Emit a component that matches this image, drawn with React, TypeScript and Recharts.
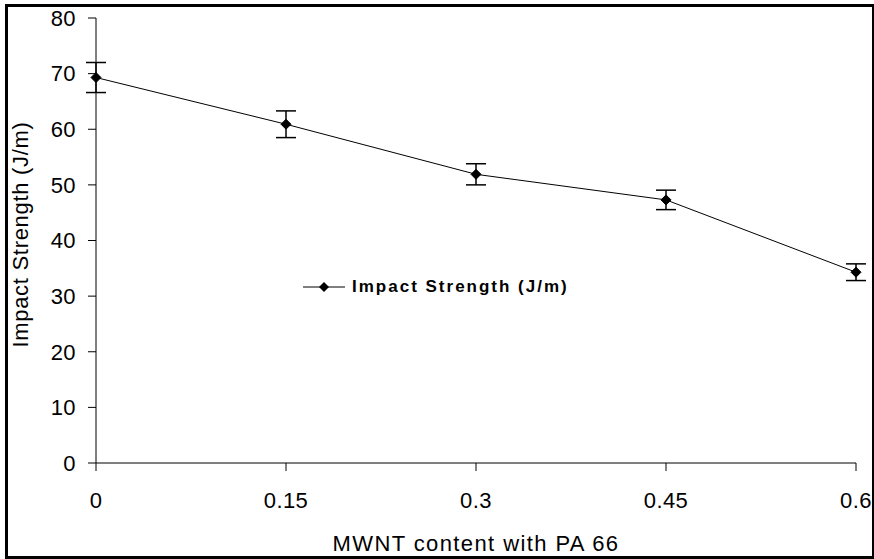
import React from 'react';
import {
  LineChart,
  Line,
  XAxis,
  YAxis,
  ErrorBar,
  Legend,
} from 'recharts';

const mwntContent = [0, 0.15, 0.3, 0.45, 0.6];
const impactStrength = [69.3, 60.9, 51.9, 47.3, 34.3];
const strengthError = [2.7, 2.4, 1.9, 1.75, 1.5];
const yTicks = [0, 10, 20, 30, 40, 50, 60, 70, 80];

const data = mwntContent.map((x, i) => ({
  x,
  strength: impactStrength[i],
  err: strengthError[i],
}));

const FONT = '"Liberation Sans", Arial, sans-serif';

const Diamond = (props: any) => {
  const { cx, cy } = props;
  if (cx == null || cy == null) return null;
  return (
    <polygon
      points={`${cx - 5},${cy} ${cx},${cy - 5} ${cx + 5},${cy} ${cx},${cy + 5}`}
      fill="#000"
      stroke="#000"
    />
  );
};

const LegendBox = () => (
  <div style={{ display: 'flex', alignItems: 'center', fontFamily: FONT }}>
    <svg width={44} height={12}>
      <line x1={0} y1={6} x2={42} y2={6} stroke="#000" strokeWidth={1} />
      <polygon points="16,6 21,1 26,6 21,11" fill="#000" />
    </svg>
    <span style={{ fontSize: 17, fontWeight: 'bold', letterSpacing: 2, marginLeft: 5, color: '#000' }}>
      Impact Strength (J/m)
    </span>
  </div>
);

const YTitle = (props: any) => {
  const { viewBox } = props;
  const cy = viewBox.y + viewBox.height / 2 - 6;
  return (
    <text
      x={20}
      y={cy}
      transform={`rotate(-90, 20, ${cy})`}
      textAnchor="middle"
      dominantBaseline="central"
      fontFamily={FONT}
      fontSize={22}
      letterSpacing={0.7}
      fill="#000"
    >
      Impact Strength (J/m)
    </text>
  );
};

const XTitle = (props: any) => {
  const { viewBox } = props;
  const cx = viewBox.x + viewBox.width / 2;
  return (
    <text
      x={cx}
      y={543}
      textAnchor="middle"
      dominantBaseline="central"
      fontFamily={FONT}
      fontSize={22}
      letterSpacing={1.4}
      fill="#000"
    >
      MWNT content with PA 66
    </text>
  );
};

export default function App() {
  return (
    <div style={{ position: 'absolute', left: 0, top: 0, width: 874, height: 559, background: '#fff' }}>
      <div
        style={{
          position: 'absolute',
          left: 5,
          top: 4,
          width: 869,
          height: 555,
          borderLeft: '3px solid #000',
          borderTop: '3px solid #000',
          borderBottom: '3px solid #000',
          borderRight: '2px solid #000',
          boxSizing: 'border-box',
        }}
      />
      <div style={{ position: 'absolute', left: 0, top: 0 }}>
        <LineChart
          width={874}
          height={559}
          data={data}
          margin={{ top: 18, right: 18, bottom: 0, left: 0 }}
        >
          <XAxis
            dataKey="x"
            type="number"
            domain={[0, 0.6]}
            ticks={mwntContent}
            height={96}
            tickSize={8}
            tickMargin={21}
            stroke="#000"
            tick={{ fill: '#000', fontSize: 22, fontFamily: FONT, letterSpacing: 0.4 }}
            label={<XTitle />}
          />
          <YAxis
            type="number"
            domain={[0, 80]}
            ticks={yTicks}
            width={96}
            tickSize={8}
            tickMargin={12}
            stroke="#000"
            tick={{ fill: '#000', fontSize: 22, fontFamily: FONT, letterSpacing: 0.4 }}
            label={<YTitle />}
          />
          <Legend
            verticalAlign="middle"
            align="center"
            layout="horizontal"
            content={<LegendBox />}
            wrapperStyle={{ position: 'absolute', left: 303, top: 277, width: 'auto' }}
          />
          <Line
            type="linear"
            dataKey="strength"
            name="Impact Strength (J/m)"
            stroke="#000"
            strokeWidth={1}
            dot={<Diamond />}
            activeDot={false}
            isAnimationActive={false}
          >
            <ErrorBar dataKey="err" direction="y" width={10} stroke="#000" strokeWidth={1.5} />
          </Line>
        </LineChart>
      </div>
    </div>
  );
}
